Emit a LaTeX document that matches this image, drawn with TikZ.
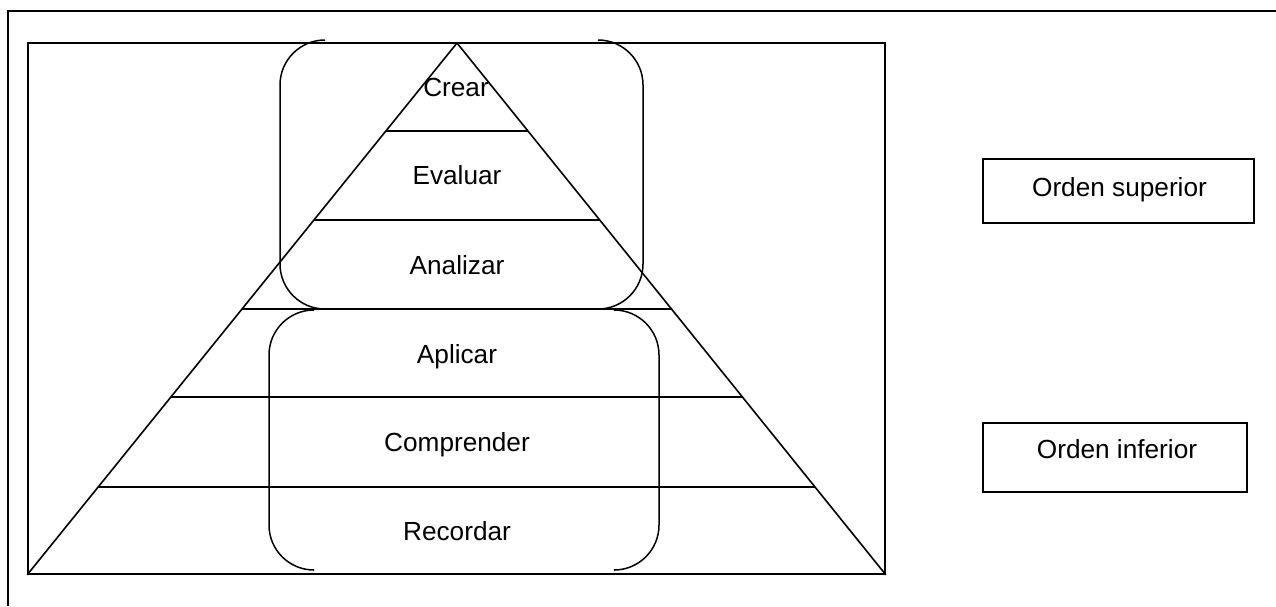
\documentclass[tikz,border=0pt]{standalone}
\usepackage{fontspec}
\setmainfont{Liberation Sans}
\usetikzlibrary{positioning}

\begin{document}
\begin{tikzpicture}[x=1pt,y=-1pt,line width=1.6pt,
    nivel/.style={font=\fontsize{26.2}{30}\selectfont,inner sep=0pt,anchor=base},
    llave/.style={line width=1.5pt,rounded corners=45pt}]
    \useasboundingbox (0,0) rectangle (1276,606);

    % Marco exterior
    \draw (8,606) -- (8,11) -- (1276,11);

    % Rectangulo de la piramide
    \node[rectangle,draw,minimum width=857pt,minimum height=531pt,inner sep=0pt] (marco) at (456.5,308.5) {};
    \coordinate (cima) at (457,43);
    \draw (marco.south west) -- (cima) -- (marco.south east);

    % Niveles
    \foreach \y in {131,220,309,397,487}
        \draw ({457-(\y-43)*0.8079},\y) -- ({457+(\y-43)*0.806},\y);

    \node[nivel] (crear) at (456,96) {Crear};
    \node[nivel] (evaluar) at (457,184) {Evaluar};
    \node[nivel] (analizar) at (457,274) {Analizar};
    \node[nivel] (aplicar) at (457,363) {Aplicar};
    \node[nivel] (comprender) at (457,451) {Comprender};
    \node[nivel] (recordar) at (457,540) {Recordar};

    % Llaves (orden superior / inferior)
    \draw[llave] (325,40) -- (280,40) -- (280,309) -- (325,309);
    \draw[llave] (598,40) -- (643,40) -- (643,309) -- (598,309);
    \draw[llave] (313,310) -- (269,310) -- (269,570) -- (313,570);
    \draw[llave] (615,310) -- (659,310) -- (659,570) -- (615,570);

    % Orden superior
    \node[rectangle,draw,line width=1.3pt,minimum width=271pt,minimum height=64pt,inner sep=0pt] (sup) at (1118.5,191) {};
    \node[nivel] (supt) at (1119.5,196) {Orden superior};

    % Orden inferior
    \node[rectangle,draw,line width=1.3pt,minimum width=264pt,minimum height=69pt,inner sep=0pt] (inf) at (1115,457.5) {};
    \node[nivel] (inft) at (1117,458) {Orden inferior};
\end{tikzpicture}
\end{document}
